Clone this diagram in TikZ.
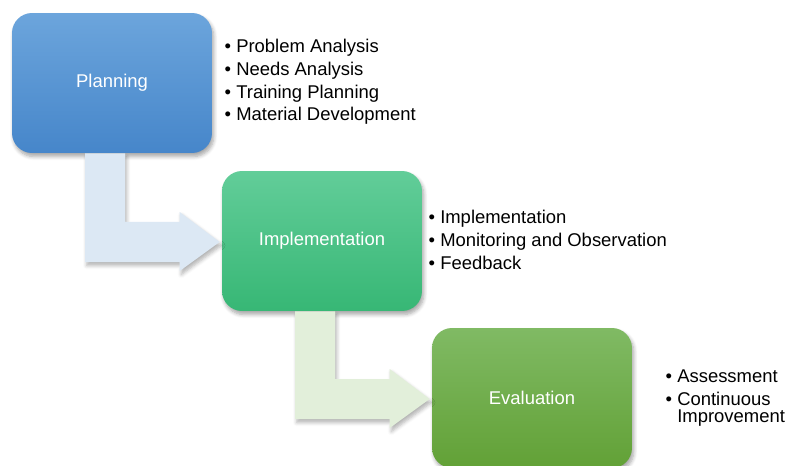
\documentclass[tikz,border=0pt]{standalone}
\usepackage{fontspec}
\setmainfont{Liberation Sans}
\usepackage{tikz}
\usetikzlibrary{calc, shadows.blur}

\definecolor{blueTop}{HTML}{6CA5DC}
\definecolor{blueBot}{HTML}{4686CA}
\definecolor{greenTop}{HTML}{62CD99}
\definecolor{greenBot}{HTML}{37B775}
\definecolor{leafTop}{HTML}{80BA64}
\definecolor{leafBot}{HTML}{62A136}
\definecolor{paleBlue}{HTML}{DCE8F4}
\definecolor{paleGreen}{HTML}{E2EFDA}

% bent block arrow: down out of #1, then right into #2
\newcommand{\elbowarrow}[3]{%
  \fill[#3, arrowshadow]
    ($(#1.south)+(-27,0)$) -- ($(#1.south)+(13,0)$)
    -- ($(#1.south |- #2.west)+(13,-19)$) -- ($(#2.west)+(-42,-19)$)
    -- ($(#2.west)+(-42,-29)$) -- ($(#2.west)+(-2,1)$)
    -- ($(#2.west)+(-42,30)$) -- ($(#2.west)+(-42,21)$)
    -- ($(#1.south |- #2.west)+(-27,21)$) -- cycle;
}

\begin{document}
\begin{tikzpicture}[
  x=0.02cm, y=-0.02cm,
  every node/.style={font=\fontsize{10.5}{12.9}\selectfont},
  stage/.style={rectangle, rounded corners=0.4cm, minimum width=4cm,
    minimum height=2.8cm, text=white, inner sep=0pt,
    blur shadow={shadow xshift=1pt, shadow yshift=-2pt,
      shadow blur steps=6, shadow opacity=35}},
  arrowshadow/.style={blur shadow={shadow xshift=1pt, shadow yshift=-2pt,
      shadow blur steps=5, shadow opacity=30}},
  points/.style={anchor=west, align=left, inner sep=0pt}
]
  \useasboundingbox (0,0) rectangle (785,466);

  \node[stage, top color=blueTop, bottom color=blueBot] (plan) at (112,83) {Planning};
  \node[stage, top color=greenTop, bottom color=greenBot] (impl) at (322,241) {Implementation};
  \node[stage, top color=leafTop, bottom color=leafBot] (eval) at (532,398) {Evaluation};

  \elbowarrow{plan}{impl}{paleBlue}
  \elbowarrow{impl}{eval}{paleGreen}

  \node[points] (planlist) at ($(plan.east)+(12,-1)$)
    {• Problem Analysis\\• Needs Analysis\\• Training Planning\\• Material Development};
  \node[points] (impllist) at ($(impl.east)+(6,-1)$)
    {• Implementation\\• Monitoring and Observation\\• Feedback};
  \node[points] (evallist) at ($(eval.east)+(33,0)$)
    {• Assessment\\• Continuous\\[-3pt]\phantom{• }Improvement};
\end{tikzpicture}
\end{document}
